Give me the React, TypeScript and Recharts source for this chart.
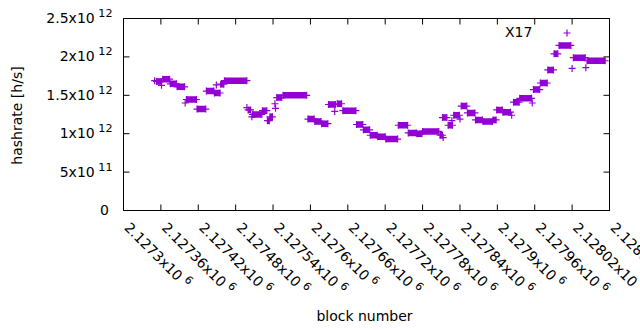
import React from "react";
import { ComposedChart, Legend, Line, Scatter, XAxis, YAxis } from "recharts";

// runs of blocks sharing one hashrate estimate (first block, last block, h/s)
const runStart = [
  2127350, 2127353, 2127361, 2127363, 2127375, 2127386, 2127399, 2127401, 2127418, 2127433,
  2127446, 2127449, 2127456, 2127462, 2127498, 2127500, 2127506, 2127507, 2127523, 2127531,
  2127535, 2127543, 2127544, 2127546, 2127556, 2127596, 2127607, 2127618, 2127629, 2127639,
  2127643, 2127652, 2127674, 2127685, 2127696, 2127708, 2127721, 2127741, 2127757, 2127771,
  2127780, 2127808, 2127813, 2127812, 2127821, 2127827, 2127830, 2127840, 2127842, 2127852,
  2127865, 2127877, 2127893, 2127899, 2127909, 2127923, 2127926, 2127936, 2127956, 2127958,
  2127969, 2127981, 2127991, 2127999, 2128020, 2128022, 2128042, 2128044,
];
const runEnd = [
  2127350, 2127361, 2127361, 2127374, 2127385, 2127398, 2127399, 2127417, 2127432, 2127445,
  2127455, 2127449, 2127461, 2127498, 2127498, 2127504, 2127506, 2127522, 2127530, 2127534,
  2127539, 2127543, 2127544, 2127554, 2127594, 2127606, 2127617, 2127628, 2127640, 2127639,
  2127650, 2127673, 2127684, 2127695, 2127707, 2127720, 2127740, 2127756, 2127770, 2127779,
  2127806, 2127812, 2127813, 2127819, 2127828, 2127827, 2127839, 2127840, 2127851, 2127864,
  2127876, 2127892, 2127898, 2127908, 2127921, 2127923, 2127935, 2127955, 2127956, 2127968,
  2127980, 2127990, 2127997, 2128018, 2128020, 2128041, 2128042, 2128073,
];
const hashrate = [
  1.69e12, 1.68e12, 1.63e12, 1.71e12, 1.65e12, 1.61e12, 1.4e12, 1.445e12, 1.32e12, 1.555e12,
  1.53e12, 1.635e12, 1.645e12, 1.69e12, 1.34e12, 1.31e12, 1.22e12, 1.25e12, 1.3e12, 1.17e12,
  1.22e12, 1.39e12, 1.33e12, 1.47e12, 1.5e12, 1.19e12, 1.16e12, 1.13e12, 1.38e12, 1.29e12,
  1.39e12, 1.3e12, 1.12e12, 1.05e12, 0.98e12, 0.96e12, 0.93e12, 1.11e12, 1.01e12, 1.0e12,
  1.03e12, 0.98e12, 0.95e12, 1.21e12, 1.11e12, 1.17e12, 1.24e12, 1.19e12, 1.36e12, 1.27e12,
  1.18e12, 1.16e12, 1.18e12, 1.31e12, 1.28e12, 1.24e12, 1.41e12, 1.46e12, 1.4e12, 1.575e12,
  1.66e12, 1.83e12, 2.04e12, 2.15e12, 1.85e12, 1.99e12, 1.86e12, 1.95e12,
];

const xTicks = [
  2127300, 2127360, 2127420, 2127480, 2127540, 2127600, 2127660,
  2127720, 2127780, 2127840, 2127900, 2127960, 2128020, 2128080,
];
const xTickLabels = [
  "2.1273", "2.12736", "2.12742", "2.12748", "2.12754", "2.1276", "2.12766",
  "2.12772", "2.12778", "2.12784", "2.1279", "2.12796", "2.12802", "2.12808",
];
const yTicks = [0, 5e11, 1e12, 1.5e12, 2e12, 2.5e12];
const yTickMain = ["0", "5x10", "1x10", "1.5x10", "2x10", "2.5x10"];
const yTickExp = ["", "11", "12", "12", "12", "12"];

const seriesName = "X17";
const PURPLE = "#9400d3";
const FONT = "'DejaVu Sans', sans-serif";
const X_DOMAIN = [2127300, 2128080];
const Y_DOMAIN = [0, 2.5e12];

// every block in a run is a "+": draw the ends as markers, the body as a thick bar
const endPoints = runStart.flatMap((s, i) =>
  s === runEnd[i]
    ? [{ block: s, rate: hashrate[i] }]
    : [{ block: s, rate: hashrate[i] }, { block: runEnd[i], rate: hashrate[i] }]
);
const runBars = runStart.flatMap((s, i) => [
  { block: s, rate: hashrate[i] },
  { block: runEnd[i], rate: hashrate[i] },
  { block: runEnd[i], rate: null },
]);

const Plus = (props: any) => {
  const { cx, cy } = props;
  if (cx == null || cy == null) return null;
  return <path d={`M${cx - 3.5},${cy}h7M${cx},${cy - 3.5}v7`} stroke={PURPLE} strokeWidth={1.2} fill="none" />;
};

const Nothing = () => <g />;

const XTick = ({ x, y, payload }: any) => {
  const i = xTicks.indexOf(payload.value);
  return (
    <text x={x} y={y} transform={`rotate(45 ${x} ${y})`} fontFamily={FONT} fontSize={14} fill="#000">
      {xTickLabels[i]}x10
      <tspan dx={4} dy={-6} fontSize={11}>6</tspan>
    </text>
  );
};

const YTick = ({ x, y, payload }: any) => {
  const i = yTicks.indexOf(payload.value);
  return (
    <text x={x} y={y + 4.5} textAnchor="end" fontFamily={FONT} fontSize={14} fill="#000" style={{ whiteSpace: "pre" }}>
      {yTickMain[i]}
      <tspan dy={-6} fontSize={11.2}>{" " + yTickExp[i]}</tspan>
    </text>
  );
};

const XLabel = ({ viewBox }: any) => (
  <text x={viewBox.x + viewBox.width / 2 - 2} y={viewBox.y + 110} textAnchor="middle" fontFamily={FONT} fontSize={14} fill="#000">
    block number
  </text>
);

const YLabel = ({ viewBox }: any) => {
  const cy = viewBox.y + viewBox.height / 2 + 1;
  return (
    <text x={22} y={cy} transform={`rotate(-90 22 ${cy})`} textAnchor="middle" fontFamily={FONT} fontSize={14} fill="#000">
      hashrate [h/s]
    </text>
  );
};

const KeyBox = () => (
  <div style={{ position: "relative", width: 80, height: 18, fontFamily: FONT, fontSize: 14, lineHeight: "16px", color: "#000" }}>
    <span style={{ position: "absolute", left: 0, top: 0 }}>{seriesName}</span>
    <svg width={12} height={12} style={{ position: "absolute", left: 56, top: 3 }}>
      <path d="M2.5,6h7M6,2.5v7" stroke={PURPLE} strokeWidth={1.2} fill="none" />
    </svg>
  </div>
);

const tickStroke = { stroke: "#000", strokeWidth: 1 };

export default function App() {
  return (
    <div style={{ position: "absolute", left: 0, top: 0, background: "#fff" }}>
      <ComposedChart width={640} height={330} margin={{ top: 17.5, right: 29.5, bottom: 0, left: 0 }}>
        <XAxis
          dataKey="block"
          type="number"
          domain={X_DOMAIN}
          ticks={xTicks}
          interval={0}
          height={119.5}
          tickSize={-6}
          tickMargin={24}
          tick={<XTick />}
          tickLine={tickStroke}
          stroke="#000"
          label={XLabel}
        />
        <XAxis
          xAxisId="top"
          orientation="top"
          dataKey="block"
          type="number"
          domain={X_DOMAIN}
          ticks={xTicks}
          interval={0}
          height={1}
          tickSize={-6}
          tick={<Nothing />}
          tickLine={tickStroke}
          stroke="#000"
        />
        <YAxis
          type="number"
          domain={Y_DOMAIN}
          ticks={yTicks}
          interval={0}
          width={123.5}
          tickSize={-6}
          tickMargin={17}
          tick={<YTick />}
          tickLine={tickStroke}
          stroke="#000"
          label={YLabel}
        />
        <YAxis
          yAxisId="right"
          orientation="right"
          type="number"
          domain={Y_DOMAIN}
          ticks={yTicks}
          interval={0}
          width={1}
          tickSize={-6}
          tick={<Nothing />}
          tickLine={tickStroke}
          stroke="#000"
        />
        <Legend content={<KeyBox />} wrapperStyle={{ left: 505, top: 24, width: "auto" }} layout="horizontal" verticalAlign="middle" align="center" />
        <Line
          data={runBars}
          dataKey="rate"
          stroke={PURPLE}
          strokeWidth={6.5}
          dot={false}
          activeDot={false}
          connectNulls={false}
          legendType="none"
          isAnimationActive={false}
        />
        <Scatter data={endPoints} dataKey="rate" name={seriesName} shape={<Plus />} isAnimationActive={false} />
        {/* invisible copy so the mirrored top/right axes get a domain */}
        <Scatter data={endPoints} dataKey="rate" xAxisId="top" yAxisId="right" shape={<Nothing />} legendType="none" isAnimationActive={false} />
      </ComposedChart>
    </div>
  );
}
